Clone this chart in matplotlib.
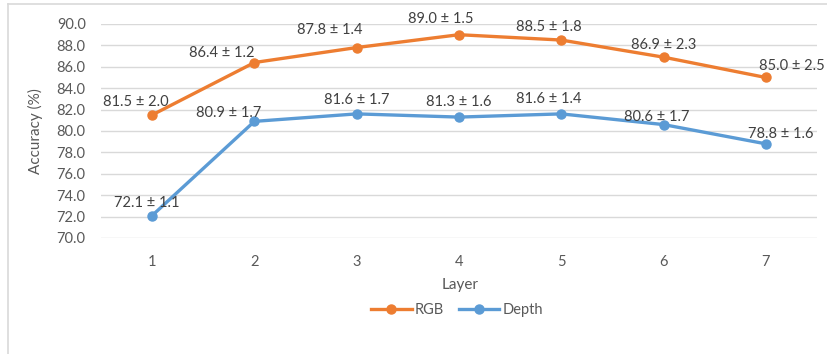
import matplotlib
matplotlib.use("Agg")
import matplotlib.pyplot as plt
from matplotlib.lines import Line2D

plt.rcParams['font.family'] = ['Lato', 'DejaVu Sans']

layers = ["1", "2", "3", "4", "5", "6", "7"]
rgb_mean = [81.5, 86.4, 87.8, 89.0, 88.5, 86.9, 85.0]
rgb_std = [2.0, 1.2, 1.4, 1.5, 1.8, 2.3, 2.5]
depth_mean = [72.1, 80.9, 81.6, 81.3, 81.6, 80.6, 78.8]
depth_std = [1.1, 1.7, 1.7, 1.6, 1.4, 1.7, 1.6]
yticks = [70.0, 72.0, 74.0, 76.0, 78.0, 80.0, 82.0, 84.0, 86.0, 88.0, 90.0]

# label offsets (pixels) for data labels
rgb_off = [(-16, 13), (-33, 10), (-27, 18), (-18, 16), (-12, 13), (0, 12), (26, 11)]
depth_off = [(-5, 13), (-26, 8), (0, 14), (0, 15), (-13, 15), (-7, 8), (15, 10)]

W, H = 828, 354
fig = plt.figure(figsize=(W / 100, H / 100), dpi=100)
ax = fig.add_axes([101 / W, 1 - 238 / H, (817 - 101) / W, (238 - 24) / H])

TXT = "#595959"
ORANGE = "#ED7D31"
BLUE = "#5B9BD5"

x = list(range(len(layers)))
ax.plot(x, rgb_mean, color=ORANGE, lw=2.4, marker='o', ms=6.5, solid_capstyle='round', zorder=3)
ax.plot(x, depth_mean, color=BLUE, lw=2.4, marker='o', ms=6.5, solid_capstyle='round', zorder=3)

for xi, m, s, o in zip(x, rgb_mean, rgb_std, rgb_off):
    ax.annotate(f"{m:.1f} ± {s:.1f}", (xi, m), xytext=o, textcoords='offset pixels',
                ha='center', va='center', fontsize=10.5, color="#404040", zorder=4)
for xi, m, s, o in zip(x, depth_mean, depth_std, depth_off):
    ax.annotate(f"{m:.1f} ± {s:.1f}", (xi, m), xytext=o, textcoords='offset pixels',
                ha='center', va='center', fontsize=10.5, color="#404040", zorder=4)

ax.set_xlim(-0.5, len(layers) - 0.5)
ax.set_ylim(70, 90)
ax.set_yticks(yticks)
ax.set_yticklabels([f"{v:.1f}" for v in yticks])
ax.set_xticks(x)
ax.set_xticklabels(layers)
ax.tick_params(axis='both', length=0, labelsize=10.5, colors=TXT)
ax.tick_params(axis='y', pad=11)
ax.tick_params(axis='x', pad=12)
ax.grid(axis='y', color='#D9D9D9', lw=1)
ax.set_axisbelow(True)
for sp in ax.spines.values():
    sp.set_visible(False)

ax.set_ylabel("Accuracy (%)", fontsize=11, color=TXT)
ax.yaxis.set_label_coords(-(101 - 43) / (817 - 101), 0.5)
fig.text(460 / W, 1 - 285 / H, "Layer", ha='center', va='center', fontsize=11, color=TXT)

handles = [Line2D([0], [0], color=ORANGE, lw=2.4, marker='o', ms=6.5),
           Line2D([0], [0], color=BLUE, lw=2.4, marker='o', ms=6.5)]
fig.legend(handles, ["RGB", "Depth"], loc='center', bbox_to_anchor=(457 / W, 1 - 310 / H),
           ncol=2, frameon=False, fontsize=10.5, labelcolor=TXT, handlelength=2.8,
           handletextpad=0.2, columnspacing=1.0)

# chart area border (left and top)
fig.add_artist(Line2D([8 / W, 8 / W], [0, 1 - 4 / H], color='#D9D9D9', lw=1.2, transform=fig.transFigure))
fig.add_artist(Line2D([8 / W, 1], [1 - 4 / H, 1 - 4 / H], color='#D9D9D9', lw=1.2, transform=fig.transFigure))

fig.savefig("out.png", dpi=100)
